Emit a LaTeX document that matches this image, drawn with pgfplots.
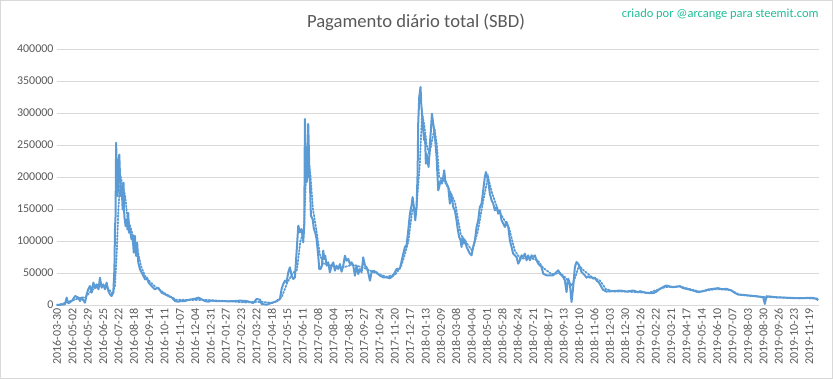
\documentclass[border=0pt]{standalone}
\usepackage{fontspec}
\setmainfont{Carlito}
\usepackage{pgfplots}
\pgfplotsset{compat=1.18}
\definecolor{linecol}{RGB}{91,155,213}
\definecolor{gridcol}{RGB}{217,217,217}
\definecolor{txtcol}{RGB}{89,89,89}
\definecolor{annotcol}{RGB}{30,190,150}
\begin{document}
\begin{tikzpicture}[x=1bp,y=1bp]
\draw[gridcol, line width=0.75bp] (0.4bp,0.4bp) rectangle (832.6bp,378.6bp);
\node[txtcol, font=\fontsize{18.7}{22}\selectfont] at (416bp,357bp) {Pagamento diário total (SBD)};
\node[annotcol, font=\fontsize{12.5}{15}\selectfont, anchor=east] at (822bp,365bp) {criado por @arcange para steemit.com};
\begin{axis}[
  at={(57bp,74bp)}, anchor=south west,
  width=762bp, height=256bp, scale only axis,
  xmin=0, xmax=1340, ymin=0, ymax=400000,
  ytick={0,50000,...,400000},
  scaled y ticks=false,
  yticklabel style={/pgf/number format/fixed, /pgf/number format/1000 sep={}, /pgf/number format/assume math mode=true, font=\fontsize{12}{14}\selectfont, text=txtcol},
  xtick={0,27,...,1323},
  xticklabels={2016-03-30,2016-05-02,2016-05-29,2016-06-25,2016-07-22,2016-08-18,2016-09-14,2016-10-11,2016-11-07,2016-12-04,2016-12-31,2017-01-27,2017-02-23,2017-03-22,2017-04-18,2017-05-15,2017-06-11,2017-07-08,2017-08-04,2017-08-31,2017-09-27,2017-10-24,2017-11-20,2017-12-17,2018-01-13,2018-02-09,2018-03-08,2018-04-04,2018-05-01,2018-05-28,2018-06-24,2018-07-21,2018-08-17,2018-09-13,2018-10-10,2018-11-06,2018-12-03,2018-12-30,2019-01-26,2019-02-22,2019-03-21,2019-04-17,2019-05-14,2019-06-10,2019-07-07,2019-08-03,2019-08-30,2019-09-26,2019-10-23,2019-11-19},
  xticklabel style={rotate=90, anchor=east, font=\fontsize{12}{14}\selectfont, text=txtcol},
  ymajorgrids, grid style={gridcol, line width=0.75bp},
  axis lines*=left,
  x axis line style={draw=gridcol, line width=0.75bp},
  y axis line style={draw=none},
  major tick length=0pt,
  clip=false,
]
\addplot[linecol, line width=2bp, line join=round] coordinates {
(0,0)(1.2,0)(14,1000)(17,11500)(20,2600)(26,6200)(32,14000)(37.5,11500)(40.5,6200)(43.4,11500)(49.2,3600)(52.2,16700)(55,24500)(58,29700)(61,19300)(64,34900)(67,27000)(70,32300)(73,24500)(75.6,42700)(78.5,27000)(81.5,32300)(84.4,24500)(87.3,34900)(90.3,21900)(93.2,16700)(96,14000)(99,19300)(101,55700)(102,118000)(103,139000)(104,253600)(105.5,196000)(106.7,170000)(108,222000)(109.6,235000)(111,196000)(112.5,170000)(113.7,186000)(115.5,149000)(117,191000)(118.4,139000)(120.7,123000)(122.5,134000)(124,118000)(125.4,144000)(126.6,113000)(128.4,118000)(131,102600)(133,108000)(135,81800)(137,108000)(139,76600)(141,97400)(143,66000)(146,55700)(149,50500)(152,45300)(155,40000)(158,42700)(161,34900)(166.4,29700)(172,24500)(178,27000)(184,19300)(190,16700)(196,14000)(202,11500)(207.5,6200)(213,5200)(219,6200)(225,6200)(231,7800)(237,8900)(243,9900)(249,11500)(254,8900)(260,6200)(266,5200)(272,6800)(278,6200)(289.5,6200)(301,5700)(313,6200)
(321.7,6800)(333.4,6200)(345.1,3100)(351,9400)(356.9,8300)(359.8,1600)(368.6,500)(380.3,4200)(386.2,5700)(392,9400)(395,25000)(397.9,32800)(400.8,38000)(403.7,35400)(406.7,51000)(409.6,58900)(412.5,45800)(415.5,40600)(418.4,43200)(421.3,82300)(424.3,124000)(427.2,113500)(430.1,118700)(433,97900)(434.8,124000)(436,290600)(437.7,217700)(438.9,191700)(440.7,202000)(441.8,282800)(443.6,217700)(444.8,191700)(446.5,139600)(449.5,134400)(451.8,118700)(454.1,113500)(456.5,103000)(459.4,77000)(461.2,56200)(463.5,56200)(465.9,61500)(468.2,84900)(470,71900)(471.7,77000)(474.1,61500)(477,66700)(479.9,51000)(482.9,61500)(485.8,66700)(488.7,53600)(491.6,61500)(494.6,56200)(497.5,64000)(500.4,52000)(503.4,61500)(506.3,77000)(509.2,69300)(512.2,71900)(515.1,64000)(518,66700)(521,61500)(523.9,45800)(526.8,61500)(529.7,48400)(532.7,56200)(535.6,51000)(538.5,74500)(541.5,61500)(544.4,58900)(547.3,51000)(550.3,38000)(553.2,51000)(556.1,53600)(562,51000)(567.8,45800)(573.7,43200)(579.5,43200)(585.4,41700)(591.3,45800)(597.1,56200)
(603,56800)(608.9,80200)(611.8,90600)(614.7,93200)(617.7,116700)(620.6,142700)(623.5,155700)(625.3,168700)(627.6,153100)(630,132300)(632.3,153100)(634.1,205200)(635.2,283300)(637,325000)(639.3,340600)(640.5,314600)(642.3,293700)(644,272900)(645.8,257300)(647,267700)(648.7,220800)(649.9,236400)(651.6,226000)(653.4,215600)(654.6,231200)(655.7,252000)(657.5,272900)(659.3,298900)(661.6,283300)(663.4,272900)(665.1,257300)(667.5,231200)(669.2,200000)(670.4,179200)(672.1,184400)(674.5,194800)(676.8,189600)(679.2,200000)(680.9,210400)(682.7,194800)(685,189600)(688,184400)(690.9,158300)(692.7,174000)(695,163500)(696.8,153100)(699.7,147900)(702.6,132300)(705,116700)(707.3,106200)(709.7,101000)(711.4,90600)(713.2,106200)(715.5,95800)(717.9,101000)(720.2,90600)(723.1,85400)(726.1,80200)(729,77600)(731.9,90600)(734.9,101000)(737.8,121900)(740.7,132300)(743.6,153100)(746.6,158300)(749.5,179200)(752.4,200000)(754.2,207800)(756.5,200000)(758.9,189600)(761.2,174000)(764.2,163500)(767.1,158300)(770,147900)(773,153100)(775.9,142700)(778.8,147900)(781.7,132300)(784.7,127100)(787.6,121900)(790.5,129700)(793.5,121900)(796.4,101000)(799.3,90600)(802.2,80200)(805.2,77600)(808.1,75000)(811,64600)(814,69800)(816.9,77600)(819.8,75000)(822.8,80200)(825.7,69800)(828.6,77600)(831.5,69800)(834.5,77600)(837.4,75000)(840.3,77600)(843.3,69800)(846.2,64600)(849.1,62000)(852.1,59400)(855,49000)(860.8,46400)(866.7,46400)(872.6,46400)(878.4,51600)(881.4,54200)(884.3,49000)(890.1,43700)(893.1,38500)(896,20300)(898.9,41100)(901.9,33300)(904.8,4700)(907.7,28100)(910.7,59400)(913.6,67200)(916.5,64600)(919.4,59400)(922.4,51600)(925.3,49000)(928.2,46400)(931.2,42700)(934.1,44800)(937,42700)(940,43700)(942.9,41100)(945.8,42700)(948.7,38500)(953.4,34400)
(960,24000)(966,21000)(975,21500)(983,22000)(989.8,22600)(1001.5,21000)(1013.2,22600)(1022,20000)(1025,21600)(1036.7,18900)(1048.4,18400)(1054.3,21000)(1060.1,25200)(1068.9,29500)(1071.8,30500)(1077.7,28900)(1083.6,27900)(1092.4,28900)(1095.3,29500)(1101.1,26300)(1107,25200)(1118.7,22600)(1127.5,20000)(1136.3,21600)(1145.1,24200)(1153.9,25200)(1162.7,26300)(1168.5,24700)(1177.3,25200)(1186.1,22600)(1192,18900)(1197.8,16300)(1206.6,15800)(1218.3,14700)(1230.1,13700)(1241.8,12100)(1244.7,1600)(1247.6,13700)(1253.5,13200)(1265.2,12100)(1276.9,11600)(1288.7,11000)(1306.2,10500)(1318,11000)(1329.7,11000)(1335.5,9500)(1338.5,7400)
};
\addplot[linecol, line width=1.8bp, dash pattern=on 1.5bp off 1.8bp, line cap=round] coordinates {
(0,0)(10,2000)(20,5000)(30,8000)(40,11000)(50,12000)(60,22000)(70,28000)(80,30000)(90,26000)(98,17000)(102,30000)(105,80000)(108,150000)(112,200000)(116,185000)(120,170000)(124,135000)(128,125000)(133,110000)(138,95000)(143,80000)(148,60000)(155,45000)(165,35000)(175,27000)(190,18000)(210,8000)(240,8000)(260,8000)(300,6000)(330,4000)(360,5000)(380,3000)(395,12000)(405,35000)(415,50000)(422,55000)(428,100000)(434,115000)(438,200000)(442,230000)(446,200000)(450,150000)(456,118000)(462,80000)(468,65000)(480,62000)(500,58000)(520,63000)(540,58000)(560,50000)(580,44000)(595,48000)(605,60000)(612,80000)(618,100000)(625,150000)(632,150000)(638,220000)(642,300000)(646,280000)(650,250000)(655,235000)(660,260000)(664,275000)(668,250000)(672,200000)(680,195000)(690,180000)(700,160000)(710,110000)(720,97000)(730,85000)(740,115000)(750,165000)(758,200000)(765,175000)(775,150000)(785,135000)(795,120000)(805,85000)(815,72000)(830,74000)(845,70000)(855,58000)(870,48000)(885,50000)(895,42000)(905,30000)(912,45000)(918,62000)(925,55000)(940,44000)(955,38000)(965,25000)(980,21000)(1000,21000)(1040,19000)(1070,28000)(1095,29000)(1130,21000)(1160,25000)(1185,23000)(1200,16000)(1240,12500)(1280,11500)(1338,10000)
};
\end{axis}
\end{tikzpicture}
\end{document}
